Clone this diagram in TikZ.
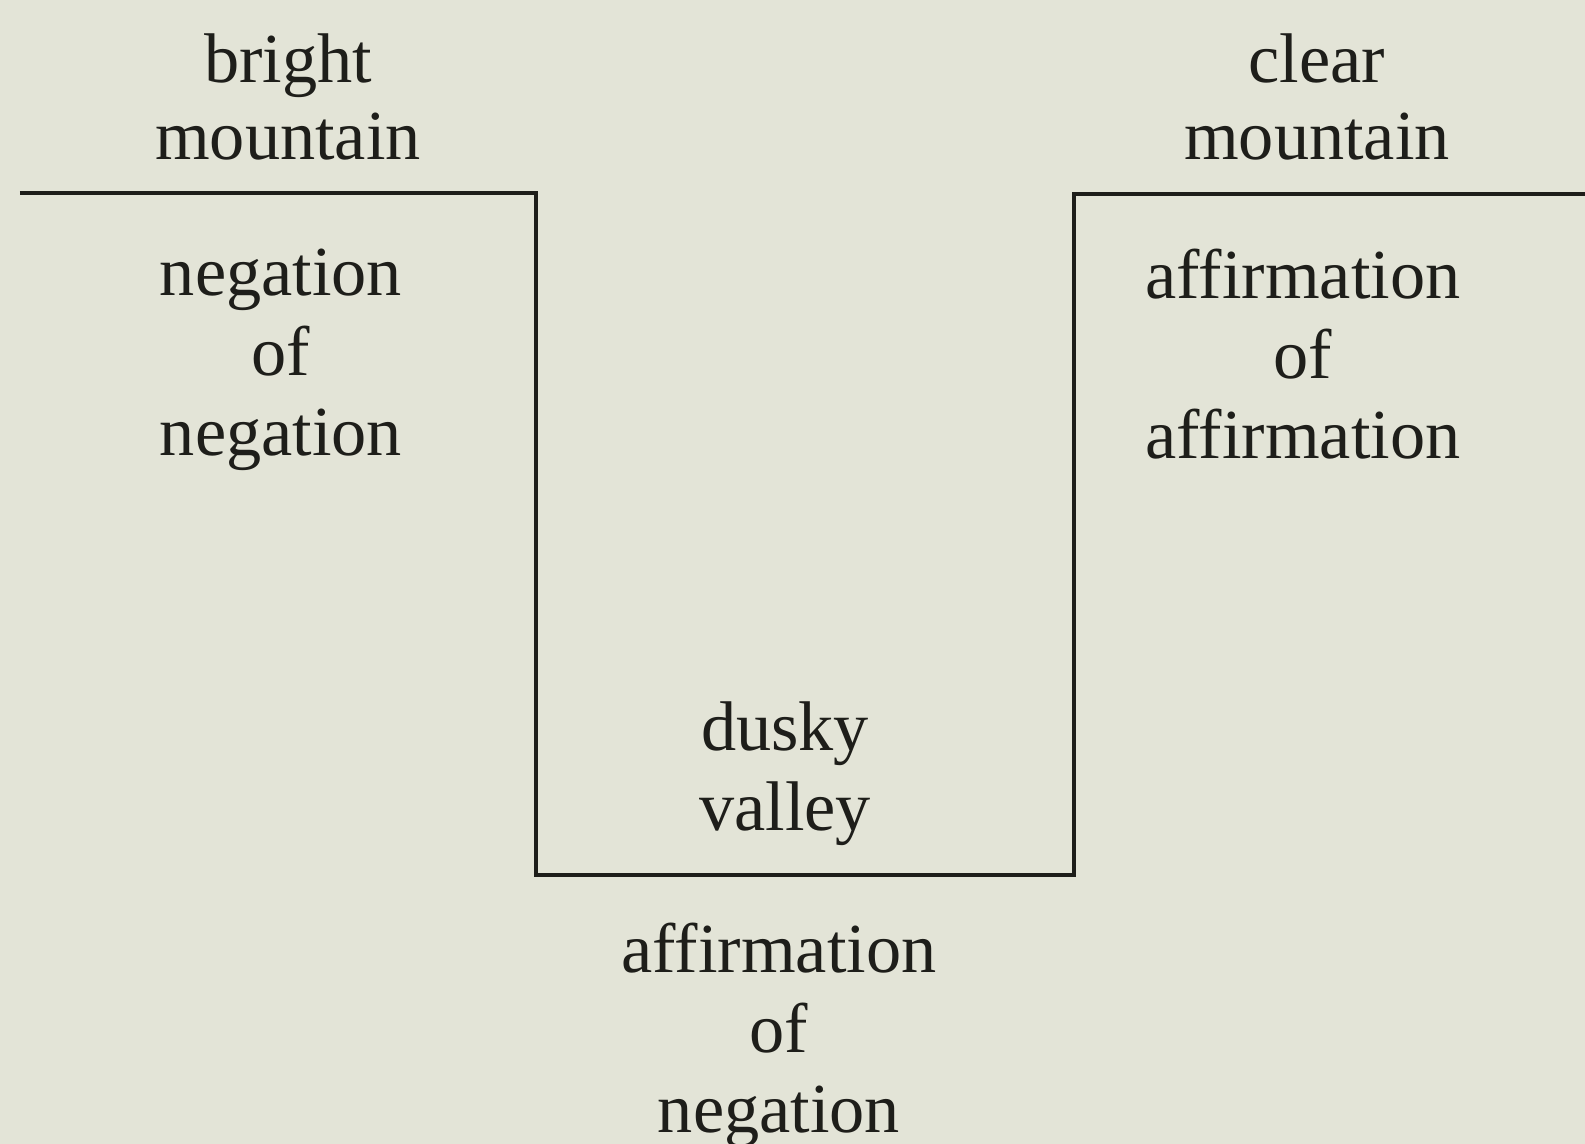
\documentclass[tikz,border=0pt]{standalone}
\usepackage{fontspec}
\setmainfont{Liberation Serif}
\definecolor{paper}{RGB}{227,228,215}
\definecolor{ink}{RGB}{30,30,26}
\begin{document}
\begin{tikzpicture}
% Estilos
\tikzstyle{concept} = [align=center, text=ink, inner sep=0pt, font=\fontsize{20}{22.8}\selectfont]
\tikzstyle{peak} = [concept, font=\fontsize{20}{21.8}\selectfont]
\tikzstyle{profile} = [draw=ink, line width=1.2pt, line join=miter]

% Fondo
\fill[paper] (0,0) rectangle (15.85,11.44);
\useasboundingbox (0,0) rectangle (15.85,11.44);

% Perfil montaña - valle - montaña
\coordinate (leftend) at (0.20,9.51);
\coordinate (leftcorner) at (5.36,9.51);
\coordinate (valleyleft) at (5.36,2.69);
\coordinate (valleyright) at (10.74,2.69);
\coordinate (rightcorner) at (10.74,9.50);
\coordinate (rightend) at (15.85,9.50);
\draw[profile] (leftend) -- (leftcorner) -- (valleyleft) -- (valleyright) -- (rightcorner) -- (rightend);

% Textos
\node[peak] (bright) at (2.88,10.47) {bright\\mountain};
\node[concept] (negneg) at (2.81,7.84) {negation\\of\\negation};
\node[peak] (clear) at (13.17,10.47) {clear\\mountain};
\node[concept] (affaff) at (13.03,7.90) {affirmation\\of\\affirmation};
\node[concept] (dusky) at (7.85,3.70) {dusky\\valley};
\node[concept] (affneg) at (7.79,1.09) {affirmation\\of\\negation};
\end{tikzpicture}
\end{document}
